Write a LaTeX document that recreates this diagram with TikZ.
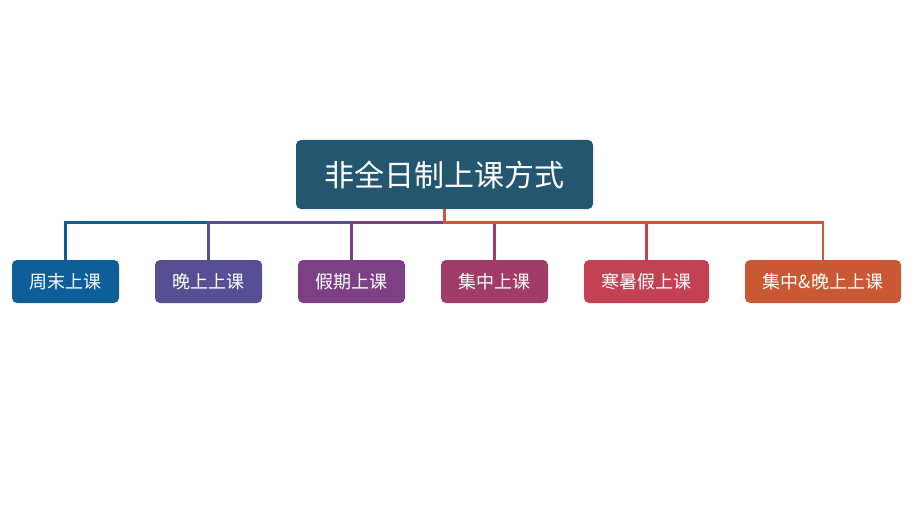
\documentclass[tikz,border=0pt]{standalone}
\usepackage{fontspec}
\setmainfont{Noto Sans CJK SC}
\definecolor{cmain}{RGB}{36,86,111}
\definecolor{cA}{RGB}{13,94,153}
\definecolor{cB}{RGB}{87,79,148}
\definecolor{cC}{RGB}{126,64,132}
\definecolor{cD}{RGB}{161,59,103}
\definecolor{cE}{RGB}{196,65,83}
\definecolor{cF}{RGB}{203,88,52}
\begin{document}
\begin{tikzpicture}[x=1pt,y=-1pt,
  mainbox/.style={fill=cmain,rounded corners=5pt,minimum width=297pt,minimum height=69pt,inner sep=0pt,text=white,font=\fontsize{30}{33}\selectfont},
  childbox/.style={rounded corners=5pt,minimum height=43pt,inner sep=0pt,text=white,font=\fontsize{18}{21}\selectfont},
  link/.style={line width=2.6pt}]
\useasboundingbox (0,0) rectangle (915,505);
\node[mainbox] (m) at (444.5,174.5) {非全日制上课方式};
\node[childbox,fill=cA,minimum width=107pt] (c1) at (65.5,281.5) {周末上课};
\node[childbox,fill=cB,minimum width=107pt] (c2) at (208.5,281.5) {晚上上课};
\node[childbox,fill=cC,minimum width=107pt] (c3) at (351.5,281.5) {假期上课};
\node[childbox,fill=cD,minimum width=107pt] (c4) at (494.5,281.5) {集中上课};
\node[childbox,fill=cE,minimum width=125pt] (c5) at (646.5,281.5) {寒暑假上课};
\node[childbox,fill=cF,minimum width=156pt] (c6) at (823,281.5) {集中\&晚上上课};
\draw[link,cA] (m.south) -- ++(0,13) -| (c1.north);
\draw[link,cB] (m.south) -- ++(0,13) -| (c2.north);
\draw[link,cC] (m.south) -- ++(0,13) -| (c3.north);
\draw[link,cD] (m.south) -- ++(0,13) -| (c4.north);
\draw[link,cE] (m.south) -- ++(0,13) -| (c5.north);
\draw[link,cF] (m.south) -- ++(0,13) -| (c6.north);
\end{tikzpicture}
\end{document}
